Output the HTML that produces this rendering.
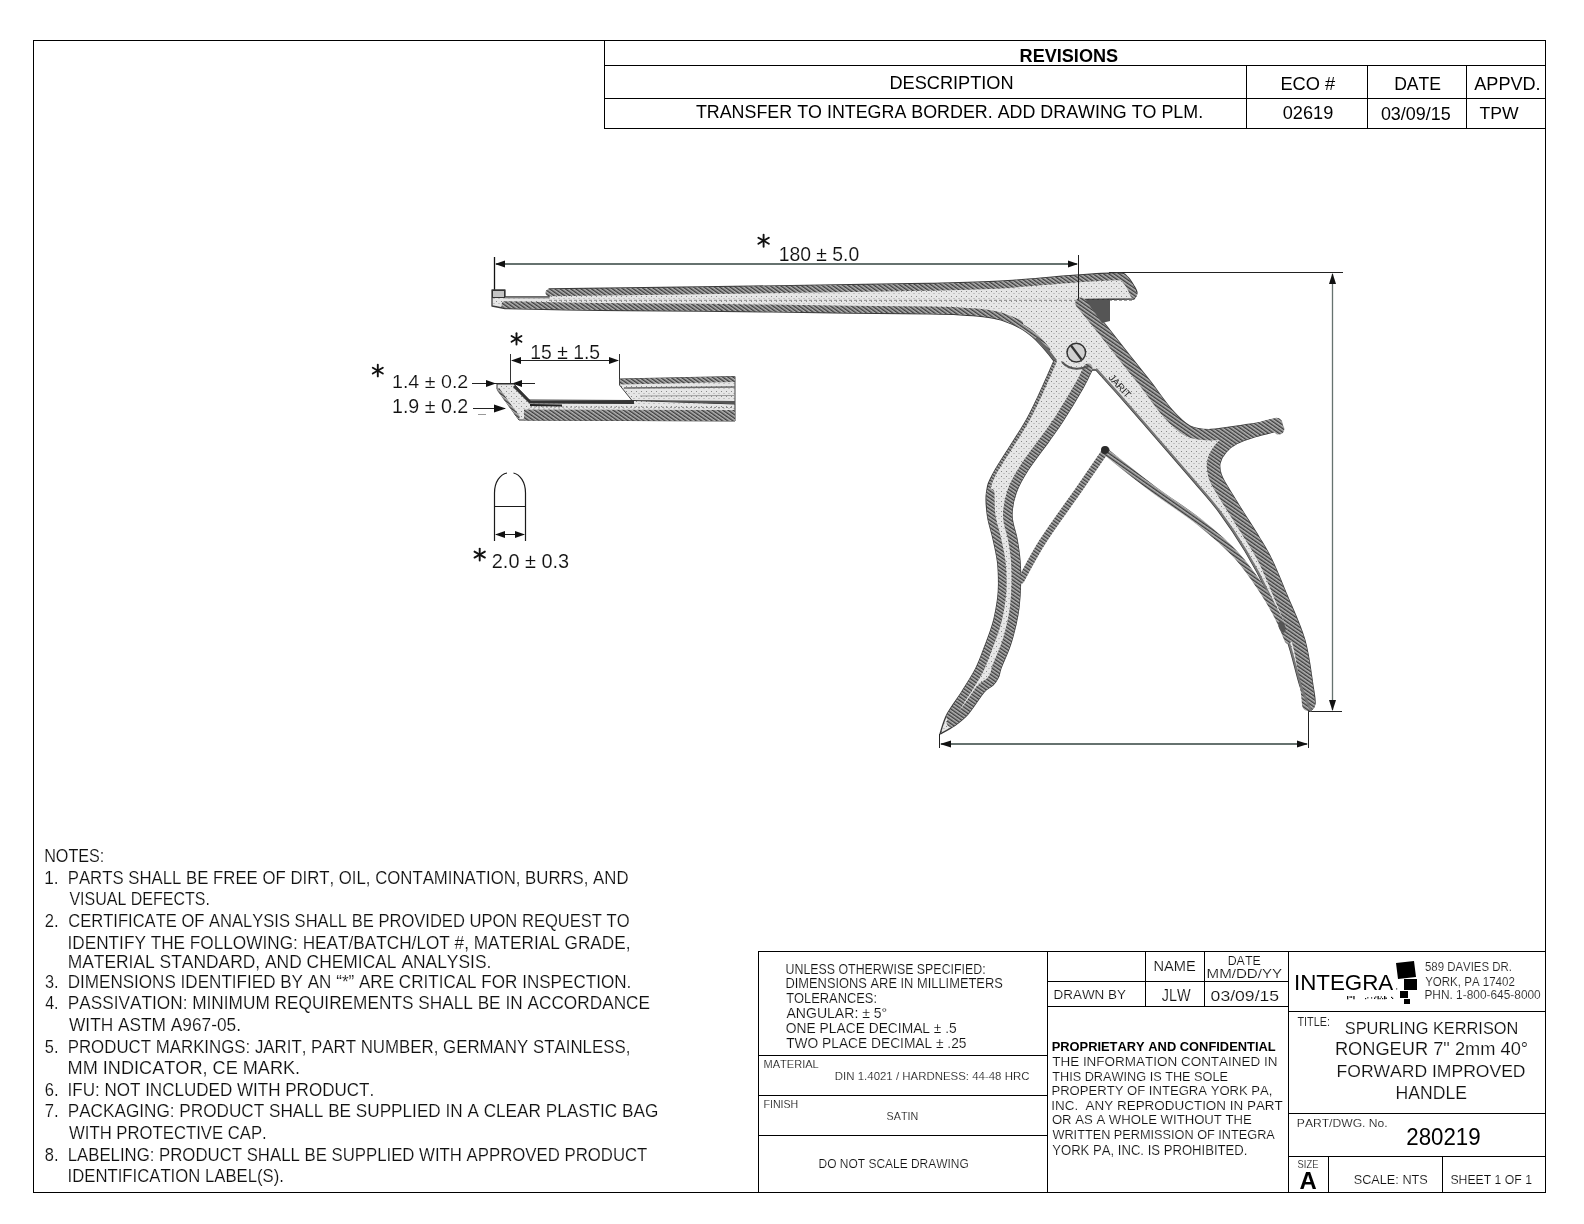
<!DOCTYPE html>
<html><head><meta charset="utf-8"><style>
html,body{margin:0;padding:0;background:#fff;}
body{width:1584px;height:1224px;overflow:hidden;}
svg{display:block;font-family:"Liberation Sans",sans-serif;font-kerning:none;will-change:transform;}
</style></head><body>
<svg width="1584" height="1224" viewBox="0 0 1584 1224">
<rect width="1584" height="1224" fill="#fff"/>
<rect x="33" y="40" width="1513" height="1" fill="#000"/>
<rect x="33" y="1192" width="1513" height="1" fill="#000"/>
<rect x="33" y="40" width="1" height="1153" fill="#000"/>
<rect x="1545" y="40" width="1" height="1153" fill="#000"/>
<rect x="604" y="40" width="1" height="89" fill="#000"/>
<rect x="604" y="65" width="942" height="1" fill="#000"/>
<rect x="604" y="98" width="942" height="1" fill="#000"/>
<rect x="604" y="128" width="942" height="1" fill="#000"/>
<rect x="1246" y="65" width="1" height="64" fill="#000"/>
<rect x="1367" y="65" width="1" height="64" fill="#000"/>
<rect x="1466" y="65" width="1" height="64" fill="#000"/>
<text x="1019.59" y="61.90" font-size="18.02" textLength="98.52" lengthAdjust="spacingAndGlyphs" font-weight="bold">REVISIONS</text>
<text x="889.41" y="88.60" font-size="18.02" textLength="124.17" lengthAdjust="spacingAndGlyphs">DESCRIPTION</text>
<text x="1280.40" y="90.00" font-size="18.02" textLength="54.79" lengthAdjust="spacingAndGlyphs">ECO #</text>
<text x="1394.16" y="89.80" font-size="17.73" textLength="46.79" lengthAdjust="spacingAndGlyphs">DATE</text>
<text x="1474.26" y="89.80" font-size="17.73" textLength="66.39" lengthAdjust="spacingAndGlyphs">APPVD.</text>
<text x="695.90" y="118.00" font-size="18.46" textLength="507.23" lengthAdjust="spacingAndGlyphs">TRANSFER TO INTEGRA BORDER. ADD DRAWING TO PLM.</text>
<text x="1282.79" y="118.70" font-size="17.88" textLength="50.47" lengthAdjust="spacingAndGlyphs">02619</text>
<text x="1380.90" y="119.60" font-size="18.02" textLength="69.85" lengthAdjust="spacingAndGlyphs">03/09/15</text>
<text x="1479.61" y="118.60" font-size="17.15" textLength="39.05" lengthAdjust="spacingAndGlyphs">TPW</text>
<text x="44.17" y="862.00" font-size="18.02" textLength="60.20" lengthAdjust="spacingAndGlyphs" fill="#111" stroke="#fff" stroke-width="0.15">NOTES:</text>
<text x="67.72" y="883.90" font-size="17.73" textLength="560.78" lengthAdjust="spacingAndGlyphs" fill="#111" stroke="#fff" stroke-width="0.15">PARTS SHALL BE FREE OF DIRT, OIL, CONTAMINATION, BURRS, AND</text>
<text x="44.19" y="883.90" font-size="17.73" textLength="14.39" lengthAdjust="spacingAndGlyphs" fill="#111" stroke="#fff" stroke-width="0.15">1.</text>
<text x="69.43" y="905.00" font-size="17.59" textLength="140.43" lengthAdjust="spacingAndGlyphs" fill="#111" stroke="#fff" stroke-width="0.15">VISUAL DEFECTS.</text>
<text x="68.26" y="926.80" font-size="18.02" textLength="561.33" lengthAdjust="spacingAndGlyphs" fill="#111" stroke="#fff" stroke-width="0.15">CERTIFICATE OF ANALYSIS SHALL BE PROVIDED UPON REQUEST TO</text>
<text x="44.66" y="926.80" font-size="18.02" textLength="13.85" lengthAdjust="spacingAndGlyphs" fill="#111" stroke="#fff" stroke-width="0.15">2.</text>
<text x="67.51" y="948.90" font-size="18.02" textLength="563.03" lengthAdjust="spacingAndGlyphs" fill="#111" stroke="#fff" stroke-width="0.15">IDENTIFY THE FOLLOWING: HEAT/BATCH/LOT #, MATERIAL GRADE,</text>
<text x="67.67" y="967.90" font-size="18.02" textLength="423.72" lengthAdjust="spacingAndGlyphs" fill="#111" stroke="#fff" stroke-width="0.15">MATERIAL STANDARD, AND CHEMICAL ANALYSIS.</text>
<text x="67.70" y="988.10" font-size="17.73" textLength="563.56" lengthAdjust="spacingAndGlyphs" fill="#111" stroke="#fff" stroke-width="0.15">DIMENSIONS IDENTIFIED BY AN “*” ARE CRITICAL FOR INSPECTION.</text>
<text x="44.88" y="988.10" font-size="17.73" textLength="13.61" lengthAdjust="spacingAndGlyphs" fill="#111" stroke="#fff" stroke-width="0.15">3.</text>
<text x="67.69" y="1009.30" font-size="17.73" textLength="582.35" lengthAdjust="spacingAndGlyphs" fill="#111" stroke="#fff" stroke-width="0.15">PASSIVATION: MINIMUM REQUIREMENTS SHALL BE IN ACCORDANCE</text>
<text x="45.13" y="1009.30" font-size="17.73" textLength="13.33" lengthAdjust="spacingAndGlyphs" fill="#111" stroke="#fff" stroke-width="0.15">4.</text>
<text x="69.02" y="1030.80" font-size="18.02" textLength="171.95" lengthAdjust="spacingAndGlyphs" fill="#111" stroke="#fff" stroke-width="0.15">WITH ASTM A967-05.</text>
<text x="67.72" y="1052.90" font-size="18.02" textLength="562.60" lengthAdjust="spacingAndGlyphs" fill="#111" stroke="#fff" stroke-width="0.15">PRODUCT MARKINGS: JARIT, PART NUMBER, GERMANY STAINLESS,</text>
<text x="44.84" y="1052.90" font-size="18.02" textLength="13.65" lengthAdjust="spacingAndGlyphs" fill="#111" stroke="#fff" stroke-width="0.15">5.</text>
<text x="67.61" y="1073.80" font-size="18.17" textLength="232.54" lengthAdjust="spacingAndGlyphs" fill="#111" stroke="#fff" stroke-width="0.15">MM INDICATOR, CE MARK.</text>
<text x="67.53" y="1095.90" font-size="18.17" textLength="306.73" lengthAdjust="spacingAndGlyphs" fill="#111" stroke="#fff" stroke-width="0.15">IFU: NOT INCLUDED WITH PRODUCT.</text>
<text x="44.66" y="1095.90" font-size="18.17" textLength="13.86" lengthAdjust="spacingAndGlyphs" fill="#111" stroke="#fff" stroke-width="0.15">6.</text>
<text x="67.69" y="1117.10" font-size="18.02" textLength="590.59" lengthAdjust="spacingAndGlyphs" fill="#111" stroke="#fff" stroke-width="0.15">PACKAGING: PRODUCT SHALL BE SUPPLIED IN A CLEAR PLASTIC BAG</text>
<text x="44.65" y="1117.10" font-size="18.02" textLength="13.87" lengthAdjust="spacingAndGlyphs" fill="#111" stroke="#fff" stroke-width="0.15">7.</text>
<text x="69.03" y="1138.60" font-size="18.17" textLength="197.70" lengthAdjust="spacingAndGlyphs" fill="#111" stroke="#fff" stroke-width="0.15">WITH PROTECTIVE CAP.</text>
<text x="67.72" y="1160.70" font-size="18.17" textLength="579.66" lengthAdjust="spacingAndGlyphs" fill="#111" stroke="#fff" stroke-width="0.15">LABELING: PRODUCT SHALL BE SUPPLIED WITH APPROVED PRODUCT</text>
<text x="44.79" y="1160.70" font-size="18.17" textLength="13.72" lengthAdjust="spacingAndGlyphs" fill="#111" stroke="#fff" stroke-width="0.15">8.</text>
<text x="67.56" y="1181.90" font-size="18.60" textLength="216.37" lengthAdjust="spacingAndGlyphs" fill="#111" stroke="#fff" stroke-width="0.15">IDENTIFICATION LABEL(S).</text>
<rect x="758" y="951" width="1" height="242" fill="#000"/>
<rect x="758" y="951" width="788" height="1" fill="#000"/>
<rect x="1047" y="951" width="1" height="242" fill="#000"/>
<rect x="758" y="1055" width="290" height="1" fill="#000"/>
<rect x="758" y="1095" width="290" height="1" fill="#000"/>
<rect x="758" y="1135" width="290" height="1" fill="#000"/>
<rect x="1145" y="951" width="1" height="56" fill="#000"/>
<rect x="1204" y="951" width="1" height="56" fill="#000"/>
<rect x="1047" y="981" width="242" height="1" fill="#000"/>
<rect x="1047" y="1006" width="242" height="1" fill="#000"/>
<rect x="1288" y="951" width="1" height="242" fill="#000"/>
<rect x="1288" y="1011" width="258" height="1" fill="#000"/>
<rect x="1288" y="1113" width="258" height="1" fill="#000"/>
<rect x="1288" y="1156" width="258" height="1" fill="#000"/>
<rect x="1328" y="1156" width="1" height="37" fill="#000"/>
<rect x="1442" y="1156" width="1" height="37" fill="#000"/>
<text x="785.55" y="974.10" font-size="13.81" textLength="200.08" lengthAdjust="spacingAndGlyphs" fill="#111" stroke="#fff" stroke-width="0.15">UNLESS OTHERWISE SPECIFIED:</text>
<text x="785.44" y="987.90" font-size="13.81" textLength="217.35" lengthAdjust="spacingAndGlyphs" fill="#111" stroke="#fff" stroke-width="0.15">DIMENSIONS ARE IN MILLIMETERS</text>
<text x="786.21" y="1003.30" font-size="13.95" textLength="90.76" lengthAdjust="spacingAndGlyphs" fill="#111" stroke="#fff" stroke-width="0.15">TOLERANCES:</text>
<text x="786.47" y="1018.30" font-size="13.81" textLength="100.77" lengthAdjust="spacingAndGlyphs" fill="#111" stroke="#fff" stroke-width="0.15">ANGULAR: ± 5°</text>
<text x="785.85" y="1033.30" font-size="13.81" textLength="170.93" lengthAdjust="spacingAndGlyphs" fill="#111" stroke="#fff" stroke-width="0.15">ONE PLACE DECIMAL ± .5</text>
<text x="786.19" y="1048.30" font-size="13.81" textLength="180.29" lengthAdjust="spacingAndGlyphs" fill="#111" stroke="#fff" stroke-width="0.15">TWO PLACE DECIMAL ± .25</text>
<text x="763.49" y="1067.80" font-size="10.90" textLength="55.27" lengthAdjust="spacingAndGlyphs" fill="#111" stroke="#fff" stroke-width="0.15">MATERIAL</text>
<text x="834.86" y="1079.70" font-size="10.32" textLength="194.57" lengthAdjust="spacingAndGlyphs" fill="#111" stroke="#fff" stroke-width="0.15">DIN 1.4021 / HARDNESS: 44-48 HRC</text>
<text x="763.53" y="1108.10" font-size="11.63" textLength="34.73" lengthAdjust="spacingAndGlyphs" fill="#111" stroke="#fff" stroke-width="0.15">FINISH</text>
<text x="886.61" y="1120.00" font-size="11.63" textLength="31.56" lengthAdjust="spacingAndGlyphs" fill="#111" stroke="#fff" stroke-width="0.15">SATIN</text>
<text x="818.62" y="1168.00" font-size="12.50" textLength="150.17" lengthAdjust="spacingAndGlyphs" fill="#111" stroke="#fff" stroke-width="0.15">DO NOT SCALE DRAWING</text>
<text x="1153.50" y="970.80" font-size="13.81" textLength="42.33" lengthAdjust="spacingAndGlyphs" fill="#111" stroke="#fff" stroke-width="0.15">NAME</text>
<text x="1227.68" y="964.80" font-size="13.66" textLength="33.05" lengthAdjust="spacingAndGlyphs" fill="#111" stroke="#fff" stroke-width="0.15">DATE</text>
<text x="1206.56" y="977.70" font-size="13.66" textLength="75.57" lengthAdjust="spacingAndGlyphs" fill="#111" stroke="#fff" stroke-width="0.15">MM/DD/YY</text>
<text x="1053.50" y="998.80" font-size="13.66" textLength="72.50" lengthAdjust="spacingAndGlyphs" fill="#111" stroke="#fff" stroke-width="0.15">DRAWN BY</text>
<text x="1161.77" y="1000.80" font-size="15.70" textLength="28.87" lengthAdjust="spacingAndGlyphs" fill="#111" stroke="#fff" stroke-width="0.15">JLW</text>
<text x="1210.61" y="1000.80" font-size="15.26" textLength="68.53" lengthAdjust="spacingAndGlyphs" fill="#111" stroke="#fff" stroke-width="0.15">03/09/15</text>
<text x="1051.64" y="1050.80" font-size="13.08" textLength="224.06" lengthAdjust="spacingAndGlyphs" font-weight="bold">PROPRIETARY AND CONFIDENTIAL</text>
<text x="1052.20" y="1065.70" font-size="13.08" textLength="225.30" lengthAdjust="spacingAndGlyphs" fill="#111" stroke="#fff" stroke-width="0.15">THE INFORMATION CONTAINED IN</text>
<text x="1052.21" y="1080.80" font-size="13.52" textLength="175.83" lengthAdjust="spacingAndGlyphs" fill="#111" stroke="#fff" stroke-width="0.15">THIS DRAWING IS THE SOLE</text>
<text x="1051.43" y="1094.70" font-size="13.52" textLength="221.05" lengthAdjust="spacingAndGlyphs" fill="#111" stroke="#fff" stroke-width="0.15">PROPERTY OF INTEGRA YORK PA,</text>
<text x="1051.26" y="1109.70" font-size="13.66" textLength="231.55" lengthAdjust="spacingAndGlyphs" fill="#111" stroke="#fff" stroke-width="0.15">INC.  ANY REPRODUCTION IN PART</text>
<text x="1051.88" y="1124.30" font-size="13.23" textLength="199.89" lengthAdjust="spacingAndGlyphs" fill="#111" stroke="#fff" stroke-width="0.15">OR AS A WHOLE WITHOUT THE</text>
<text x="1052.44" y="1139.40" font-size="13.66" textLength="222.38" lengthAdjust="spacingAndGlyphs" fill="#111" stroke="#fff" stroke-width="0.15">WRITTEN PERMISSION OF INTEGRA</text>
<text x="1052.21" y="1154.50" font-size="13.81" textLength="195.29" lengthAdjust="spacingAndGlyphs" fill="#111" stroke="#fff" stroke-width="0.15">YORK PA, INC. IS PROHIBITED.</text>
<text x="1293.94" y="989.70" font-size="22.38" textLength="99.31" lengthAdjust="spacingAndGlyphs">INTEGRA</text>
<path d="M1396,963 L1414,961 L1416,977 L1398,979 Z" fill="#000"/>
<rect x="1404" y="979" width="13" height="11" fill="#000"/>
<rect x="1400" y="991" width="8" height="7" fill="#000"/>
<rect x="1404" y="999" width="6" height="5" fill="#000"/>
<rect x="1396" y="988.3" width="1.2" height="1.2" fill="#333"/>
<rect x="1347" y="996" width="1.3" height="3.3" fill="#111"/>
<rect x="1349.5" y="996.3" width="1.2" height="1.5" fill="#111"/>
<rect x="1351" y="996.3" width="1.2" height="1.5" fill="#111"/>
<rect x="1353.3" y="996" width="1.3" height="3.3" fill="#111"/>
<rect x="1365" y="998" width="1.2" height="1.2" fill="#111"/>
<rect x="1367.2" y="997.2" width="1.2" height="1.2" fill="#111"/>
<rect x="1371" y="997.3" width="1.2" height="1.2" fill="#111"/>
<rect x="1374" y="997.5" width="1.2" height="1.5" fill="#111"/>
<rect x="1375.3" y="996.3" width="1.1" height="1.4" fill="#111"/>
<rect x="1377.5" y="996" width="1.3" height="3.3" fill="#111"/>
<rect x="1379.5" y="998" width="1.2" height="1.2" fill="#111"/>
<rect x="1380.7" y="996.4" width="1.2" height="1.2" fill="#111"/>
<rect x="1382" y="998" width="1.2" height="1.2" fill="#111"/>
<rect x="1384" y="996" width="1.3" height="3.3" fill="#111"/>
<rect x="1385.5" y="997.5" width="1.3" height="1.5" fill="#111"/>
<rect x="1391" y="996.8" width="1.2" height="1.2" fill="#111"/>
<rect x="1392" y="997.8" width="1.2" height="1.2" fill="#111"/>
<text x="1424.94" y="970.90" font-size="12.06" textLength="87.00" lengthAdjust="spacingAndGlyphs" fill="#222" stroke="#fff" stroke-width="0.12">589 DAVIES DR.</text>
<text x="1425.15" y="985.80" font-size="12.06" textLength="89.73" lengthAdjust="spacingAndGlyphs" fill="#222" stroke="#fff" stroke-width="0.12">YORK, PA 17402</text>
<text x="1424.42" y="999.40" font-size="12.06" textLength="116.34" lengthAdjust="spacingAndGlyphs" fill="#222" stroke="#fff" stroke-width="0.12">PHN. 1-800-645-8000</text>
<text x="1297.46" y="1025.80" font-size="13.37" textLength="32.53" lengthAdjust="spacingAndGlyphs" fill="#222" stroke="#fff" stroke-width="0.12">TITLE:</text>
<text x="1344.76" y="1034.10" font-size="17.15" textLength="173.58" lengthAdjust="spacingAndGlyphs" fill="#111" stroke="#fff" stroke-width="0.15">SPURLING KERRISON</text>
<text x="1334.90" y="1054.80" font-size="18.02" textLength="193.19" lengthAdjust="spacingAndGlyphs" fill="#111" stroke="#fff" stroke-width="0.15">RONGEUR 7" 2mm 40°</text>
<text x="1336.56" y="1076.80" font-size="17.30" textLength="188.98" lengthAdjust="spacingAndGlyphs" fill="#111" stroke="#fff" stroke-width="0.15">FORWARD IMPROVED</text>
<text x="1395.55" y="1098.90" font-size="17.73" textLength="71.50" lengthAdjust="spacingAndGlyphs" fill="#111" stroke="#fff" stroke-width="0.15">HANDLE</text>
<text x="1296.81" y="1126.90" font-size="11.77" textLength="90.90" lengthAdjust="spacingAndGlyphs" fill="#111" stroke="#fff" stroke-width="0.15">PART/DWG. No.</text>
<text x="1406.28" y="1145.10" font-size="23.11" textLength="74.38" lengthAdjust="spacingAndGlyphs">280219</text>
<text x="1297.57" y="1167.80" font-size="11.63" textLength="20.83" lengthAdjust="spacingAndGlyphs" fill="#111" stroke="#fff" stroke-width="0.15">SIZE</text>
<text x="1299.41" y="1189.00" font-size="23.69" textLength="17.22" lengthAdjust="spacingAndGlyphs" font-weight="bold">A</text>
<text x="1353.72" y="1183.75" font-size="13.44" textLength="74.06" lengthAdjust="spacingAndGlyphs" fill="#111" stroke="#fff" stroke-width="0.15">SCALE: NTS</text>
<text x="1450.44" y="1183.75" font-size="13.44" textLength="81.55" lengthAdjust="spacingAndGlyphs" fill="#111" stroke="#fff" stroke-width="0.15">SHEET 1 OF 1</text>
<text x="778.73" y="261.10" font-size="20.64" textLength="80.53" lengthAdjust="spacingAndGlyphs" fill="#111" stroke="#fff" stroke-width="0.15">180 ± 5.0</text>
<text x="530.33" y="358.80" font-size="20.06" textLength="69.68" lengthAdjust="spacingAndGlyphs" fill="#111" stroke="#fff" stroke-width="0.15">15 ± 1.5</text>
<text x="392.00" y="387.50" font-size="19.04" textLength="76.28" lengthAdjust="spacingAndGlyphs" fill="#111" stroke="#fff" stroke-width="0.15">1.4 ± 0.2</text>
<text x="392.00" y="413.40" font-size="19.91" textLength="76.28" lengthAdjust="spacingAndGlyphs" fill="#111" stroke="#fff" stroke-width="0.15">1.9 ± 0.2</text>
<text x="491.80" y="567.80" font-size="19.62" textLength="77.38" lengthAdjust="spacingAndGlyphs" fill="#111" stroke="#fff" stroke-width="0.15">2.0 ± 0.3</text>
<defs><pattern id="h1" patternUnits="userSpaceOnUse" width="3" height="3" patternTransform="rotate(-55)"><rect width="3" height="3" fill="#b4b4b4"/><rect width="1.4" height="3" fill="#3c3c3c"/></pattern><pattern id="st" patternUnits="userSpaceOnUse" width="5" height="5"><rect width="5" height="5" fill="#e6e6e6"/><rect x="1" y="1" width="1" height="1" fill="#888"/><rect x="3.5" y="3" width="1" height="1" fill="#a0a0a0"/></pattern></defs>
<line x1="494.5" y1="257" x2="494.5" y2="296" stroke="#111" stroke-width="1.3"/>
<line x1="496" y1="264" x2="1077" y2="264" stroke="#66726f" stroke-width="1.8"/>
<polygon points="495,264 505,260.5 505,267.5" fill="#111"/>
<polygon points="1078,264 1068,260.5 1068,267.5" fill="#111"/>
<line x1="1109" y1="272.5" x2="1343" y2="272.5" stroke="#222" stroke-width="1"/>
<line x1="1332.5" y1="274" x2="1332.5" y2="710" stroke="#66726f" stroke-width="1.3"/>
<polygon points="1332.5,273 1329,284 1336,284" fill="#111"/>
<polygon points="1332.5,711 1329,700 1336,700" fill="#111"/>
<line x1="1309" y1="711.5" x2="1342" y2="711.5" stroke="#222" stroke-width="1"/>
<line x1="1308.5" y1="711" x2="1308.5" y2="748" stroke="#222" stroke-width="1"/>
<line x1="939.5" y1="734" x2="939.5" y2="748" stroke="#222" stroke-width="1"/>
<line x1="941" y1="744" x2="1307" y2="744" stroke="#66726f" stroke-width="1.8"/>
<polygon points="940,744 951,740.5 951,747.5" fill="#111"/>
<polygon points="1308,744 1297,740.5 1297,747.5" fill="#111"/>
<line x1="510.5" y1="354" x2="510.5" y2="384" stroke="#333" stroke-width="1"/>
<line x1="619.5" y1="354" x2="619.5" y2="383" stroke="#333" stroke-width="1"/>
<line x1="512" y1="360.5" x2="618" y2="360.5" stroke="#222" stroke-width="1"/>
<polygon points="511,360.5 521,357 521,364" fill="#111"/>
<polygon points="619,360.5 609,357 609,364" fill="#111"/>
<line x1="472" y1="383.5" x2="535" y2="383.5" stroke="#222" stroke-width="1"/>
<polygon points="496,383.5 486,380 486,387" fill="#111"/>
<polygon points="512,383.5 522,380 522,387" fill="#111"/>
<line x1="473" y1="408.5" x2="505" y2="408.5" stroke="#222" stroke-width="1"/>
<polygon points="506,408.5 494,404.5 494,412.5" fill="#111"/>
<line x1="478" y1="414.5" x2="486" y2="414.5" stroke="#999" stroke-width="1"/>
<path d="M494.5,541 L494.5,493 C494.5,482 500,474.5 507,473 M513.5,473 C520,474.5 525.5,482 525.5,493 L525.5,541" fill="none" stroke="#1a1a1a" stroke-width="1.2"/>
<line x1="494" y1="506.5" x2="526" y2="506.5" stroke="#1a1a1a" stroke-width="1"/>
<line x1="496" y1="534.5" x2="524" y2="534.5" stroke="#1a1a1a" stroke-width="1"/>
<polygon points="495,534.5 505,531 505,538" fill="#111"/>
<polygon points="525,534.5 515,531 515,538" fill="#111"/>
<polygon points="619.5,379 735,376.5 735,404 634,403 619.5,385" fill="url(#st)" stroke="#444" stroke-width="1"/>
<polyline points="620,381.8 735,379.3" fill="none" stroke="url(#h1)" stroke-width="5.5"/>
<polyline points="624,388 735,387" fill="none" stroke="#6a6a6a" stroke-width="1.5"/>
<polyline points="640,396 735,395.5" fill="none" stroke="#999" stroke-width="1"/>
<polygon points="497,384 514,384 529,400 634,400.5 735,404 735,421 519,420 497,389" fill="url(#st)" stroke="#333" stroke-width="1"/>
<polyline points="524,415 735,415.5" fill="none" stroke="url(#h1)" stroke-width="11"/>
<polyline points="530,407 735,407.5" fill="none" stroke="#888" stroke-width="1" stroke-dasharray="2,2"/>
<polyline points="514,386 530,402 634,402.5" fill="none" stroke="#333" stroke-width="3"/>
<polyline points="498,389 519,418" fill="none" stroke="url(#h1)" stroke-width="3"/>
<polyline points="530,405 562,405.5" fill="none" stroke="#222" stroke-width="2"/>
<polygon points="634,400.5 735,404 735,401 640,400" fill="#555"/>
<path d="M492.00,306.00 L492.00,290.00 L505.00,290.00 L505.00,297.00 L549.00,297.00 L549,289 C574.17,288.67 649.83,287.73 700.00,287.00 C750.17,286.27 811.67,285.20 850.00,284.60 C888.33,284.00 905.00,283.97 930.00,283.40 C955.00,282.83 976.67,282.50 1000.00,281.20 C1023.33,279.90 1050.50,276.97 1070.00,275.60 C1089.50,274.23 1107.50,272.85 1117.00,273.00 C1126.50,273.15 1124.17,274.33 1127.00,276.50 C1129.83,278.67 1132.33,283.25 1134.00,286.00 C1135.67,288.75 1137.00,290.83 1137.00,293.00 C1137.00,295.17 1134.50,298.00 1134.00,299.00 L1085,299.5 C1088.83,304.25 1100.50,318.58 1108.00,328.00 C1115.50,337.42 1123.00,347.17 1130.00,356.00 C1137.00,364.83 1143.00,372.00 1150.00,381.00 C1157.00,390.00 1165.33,402.50 1172.00,410.00 C1178.67,417.50 1183.50,422.75 1190.00,426.00 C1196.50,429.25 1201.33,429.75 1211.00,429.50 C1220.67,429.25 1237.50,425.92 1248.00,424.50 C1258.50,423.08 1268.50,421.08 1274.00,421.00 C1279.50,420.92 1279.83,423.50 1281.00,424.00 C1280.50,425.92 1282.17,428.58 1278.00,430.50 C1273.83,432.42 1262.83,434.33 1256.00,436.50 C1249.17,438.67 1242.00,440.92 1237.00,443.50 C1232.00,446.08 1228.83,448.75 1226.00,452.00 C1223.17,455.25 1220.83,459.33 1220.00,463.00 C1219.17,466.67 1220.00,470.50 1221.00,474.00 C1222.00,477.50 1222.50,478.00 1226.00,484.00 C1229.50,490.00 1236.50,501.17 1242.00,510.00 C1247.50,518.83 1254.00,528.67 1259.00,537.00 C1264.00,545.33 1267.42,550.50 1272.00,560.00 C1276.58,569.50 1281.03,580.67 1286.50,594.00 C1291.97,607.33 1300.38,624.67 1304.80,640.00 C1309.22,655.33 1311.30,675.33 1313.00,686.00 C1314.70,696.67 1315.50,699.83 1315.00,704.00 C1314.50,708.17 1310.83,709.83 1310.00,711.00 C1308.33,706.83 1303.83,697.83 1300.00,686.00 C1296.17,674.17 1292.33,655.33 1287.00,640.00 C1281.67,624.67 1275.00,608.83 1268.00,594.00 C1261.00,579.17 1253.17,564.67 1245.00,551.00 C1236.83,537.33 1227.50,523.50 1219.00,512.00 C1210.50,500.50 1203.50,493.17 1194.00,482.00 C1184.50,470.83 1172.83,457.50 1162.00,445.00 C1151.17,432.50 1140.00,419.50 1129.00,407.00 C1118.00,394.50 1101.50,376.17 1096.00,370.00 L1092,370 C1090.50,373.00 1087.83,379.50 1083.00,388.00 C1078.17,396.50 1068.67,412.17 1063.00,421.00 C1057.33,429.83 1054.83,432.83 1049.00,441.00 C1043.17,449.17 1033.50,461.33 1028.00,470.00 C1022.50,478.67 1018.67,485.33 1016.00,493.00 C1013.33,500.67 1011.83,508.33 1012.00,516.00 C1012.17,523.67 1015.67,531.50 1017.00,539.00 C1018.33,546.50 1019.42,553.50 1020.00,561.00 C1020.58,568.50 1020.67,576.33 1020.50,584.00 C1020.33,591.67 1019.75,600.33 1019.00,607.00 C1018.25,613.67 1017.50,617.50 1016.00,624.00 C1014.50,630.50 1012.50,638.67 1010.00,646.00 C1007.50,653.33 1002.92,662.83 1001.00,668.00 C999.08,673.17 999.83,674.17 998.50,677.00 C997.17,679.83 995.42,682.50 993.00,685.00 C990.58,687.50 988.17,687.17 984.00,692.00 C979.83,696.83 973.00,708.33 968.00,714.00 C963.00,719.67 958.67,722.67 954.00,726.00 C949.33,729.33 942.33,732.67 940.00,734.00 C941.17,730.73 943.33,721.48 947.00,714.40 C950.67,707.32 957.20,699.13 962.00,691.50 C966.80,683.87 971.97,676.22 975.80,668.60 C979.63,660.98 982.13,653.42 985.00,645.80 C987.87,638.18 990.92,630.53 993.00,622.90 C995.08,615.27 996.57,606.48 997.50,600.00 C998.43,593.52 998.60,590.42 998.60,584.00 C998.60,577.58 998.43,569.07 997.50,561.50 C996.57,553.93 994.67,546.22 993.00,538.60 C991.33,530.98 988.58,523.40 987.50,515.80 C986.42,508.20 985.42,500.30 986.50,493.00 C987.58,485.70 987.08,484.67 994.00,472.00 C1000.92,459.33 1018.00,435.50 1028.00,417.00 C1038.00,398.50 1049.67,370.33 1054.00,361.00 C1052.67,359.33 1049.00,354.50 1046.00,351.00 C1043.00,347.50 1039.17,343.08 1036.00,340.00 C1032.83,336.92 1030.00,334.67 1027.00,332.50 C1024.00,330.33 1022.33,329.08 1018.00,327.00 C1013.67,324.92 1006.83,321.73 1001.00,320.00 C995.17,318.27 989.83,317.47 983.00,316.60 C976.17,315.73 968.83,315.25 960.00,314.80 C951.17,314.35 948.33,314.20 930.00,313.90 C911.67,313.60 888.33,313.48 850.00,313.00 C811.67,312.52 741.67,311.43 700.00,311.00 C658.33,310.57 632.50,310.82 600.00,310.40 C567.50,309.98 520.83,308.82 505.00,308.50 L492,306 Z" fill="url(#st)" stroke="#3a3a3a" stroke-width="1.3" stroke-linejoin="round"/>
<path d="M549.05,292.80 C574.22,292.47 649.89,291.53 700.06,290.80 C750.22,290.07 811.72,289.00 850.06,288.40 C888.40,287.80 905.06,287.77 930.09,287.20 C955.11,286.63 976.85,286.30 1000.21,284.99 C1023.57,283.69 1050.81,280.76 1070.27,279.39 C1089.72,278.02 1107.87,276.78 1116.94,276.80 C1126.01,276.82 1122.39,277.66 1124.69,279.52 C1126.99,281.38 1129.28,285.47 1130.75,287.97 C1132.22,290.47 1133.05,293.41 1133.51,294.50" fill="none" stroke="url(#h1)" stroke-width="7" stroke-linejoin="round" stroke-linecap="round"/>
<path d="M505.08,304.70 C520.90,305.02 567.55,306.18 600.05,306.60 C632.54,307.02 658.37,306.77 700.04,307.20 C741.71,307.63 811.71,308.72 850.05,309.20 C888.39,309.68 911.70,309.80 930.06,310.10 C948.42,310.40 951.29,310.55 960.19,311.00 C969.10,311.46 976.50,311.94 983.48,312.83 C990.46,313.72 996.09,314.58 1002.08,316.36 C1008.08,318.13 1016.55,322.30 1019.45,323.49" fill="none" stroke="url(#h1)" stroke-width="7" stroke-linejoin="round" stroke-linecap="round"/>
<path d="M1047.85,349.32 C1046.17,347.47 1040.98,341.35 1037.74,338.21 C1034.51,335.07 1031.54,332.70 1028.46,330.47 C1025.39,328.25 1020.83,325.80 1019.30,324.87" fill="none" stroke="url(#h1)" stroke-width="5" stroke-linejoin="round" stroke-linecap="round"/>
<path d="M1055.17,360.06 C1053.83,358.39 1050.15,353.54 1047.14,350.02 C1044.13,346.51 1038.78,340.83 1037.11,338.99" fill="none" stroke="#666" stroke-width="3" stroke-linejoin="round" stroke-linecap="round"/>
<line x1="549" y1="300.3" x2="1134" y2="300.3" stroke="#888" stroke-width="1" stroke-dasharray="3,2"/>
<line x1="505" y1="298" x2="549" y2="298" stroke="#999" stroke-width="1"/>
<path d="M1080.72,302.95 C1084.55,307.70 1096.20,322.02 1103.70,331.43 C1111.19,340.84 1118.70,350.59 1125.69,359.42 C1132.68,368.24 1138.63,375.34 1145.66,384.38 C1152.69,393.42 1160.91,405.90 1167.89,413.65 C1174.87,421.41 1180.33,427.36 1187.54,430.92 C1194.75,434.48 1200.94,435.16 1211.14,435.00 C1221.34,434.84 1238.25,431.37 1248.74,429.95 C1259.23,428.53 1269.07,426.65 1274.08,426.50 C1279.10,426.35 1278.04,428.63 1278.83,429.06" fill="none" stroke="url(#h1)" stroke-width="11" stroke-linejoin="round" stroke-linecap="round"/>
<path d="M1276.29,424.23 C1272.58,425.24 1261.08,428.05 1254.04,430.30 C1246.99,432.55 1239.51,434.82 1234.02,437.73 C1228.53,440.63 1224.49,443.76 1221.10,447.73 C1217.71,451.70 1214.72,456.88 1213.66,461.56 C1212.60,466.24 1213.63,471.50 1214.75,475.79 C1215.87,480.07 1216.76,481.00 1220.39,487.28 C1224.01,493.55 1230.98,504.59 1236.48,513.44 C1241.99,522.28 1248.48,532.11 1253.43,540.34 C1258.37,548.58 1261.64,553.47 1266.15,562.82 C1270.66,572.18 1275.08,583.30 1280.49,596.47 C1285.89,609.63 1294.20,626.71 1298.55,641.80 C1302.90,656.89 1304.92,676.54 1306.58,687.02 C1308.25,697.51 1308.21,701.77 1308.54,704.72" fill="none" stroke="url(#h1)" stroke-width="13" stroke-linejoin="round" stroke-linecap="round"/>
<path d="M1310.93,710.63 C1309.27,706.47 1304.78,697.52 1300.95,685.69 C1297.12,673.87 1293.29,655.02 1287.94,639.67 C1282.60,624.32 1275.92,608.44 1268.90,593.57 C1261.89,578.71 1254.04,564.18 1245.86,550.49 C1237.68,536.79 1228.32,522.93 1219.80,511.41 C1211.29,499.88 1204.27,492.53 1194.76,481.35 C1185.25,470.18 1173.59,456.85 1162.76,444.35 C1151.92,431.84 1140.75,418.84 1129.75,406.34 C1118.75,393.84 1102.25,375.50 1096.75,369.33" fill="none" stroke="#777" stroke-width="2" stroke-linejoin="round" stroke-linecap="round"/>
<path d="M950.35,716.59 C952.85,712.76 960.55,701.33 965.39,693.63 C970.22,685.93 975.48,678.13 979.37,670.40 C983.27,662.66 985.83,654.95 988.74,647.21 C991.66,639.47 994.74,631.73 996.86,623.95 C998.98,616.18 1000.50,607.23 1001.46,600.57 C1002.42,593.91 1002.60,590.59 1002.60,584.00 C1002.60,577.41 1002.42,568.72 1001.47,561.01 C1000.52,553.30 998.58,545.37 996.91,537.74 C995.24,530.12 992.53,522.72 991.46,515.24 C990.39,507.75 990.66,496.56 990.50,492.82" fill="none" stroke="url(#h1)" stroke-width="8" stroke-linejoin="round" stroke-linecap="round"/>
<path d="M987.91,493.50 C989.15,490.04 988.42,485.35 995.32,472.72 C1002.22,460.09 1019.31,436.23 1029.32,417.71 C1039.33,399.20 1051.02,370.98 1055.36,361.63" fill="none" stroke="url(#h1)" stroke-width="3" stroke-linejoin="round" stroke-linecap="round"/>
<path d="M1087.98,367.99 C1086.49,370.95 1083.88,377.35 1079.09,385.78 C1074.29,394.21 1064.84,409.80 1059.21,418.57 C1053.59,427.34 1051.17,430.21 1045.34,438.38 C1039.50,446.55 1029.80,458.73 1024.20,467.59 C1018.60,476.44 1014.53,483.44 1011.75,491.52 C1008.97,499.61 1007.36,508.05 1007.50,516.10 C1007.64,524.14 1011.23,532.25 1012.57,539.79 C1013.90,547.33 1014.94,554.00 1015.51,561.35 C1016.09,568.70 1016.17,576.38 1016.00,583.90 C1015.84,591.43 1015.26,599.98 1014.53,606.50 C1013.80,613.01 1013.08,616.65 1011.62,622.99 C1010.15,629.33 1008.21,637.31 1005.74,644.55 C1003.27,651.79 998.67,661.35 996.78,666.43 C994.90,671.52 995.60,672.51 994.43,675.08 C993.26,677.66 992.07,679.54 989.76,681.87 C987.46,684.20 984.78,684.20 980.59,689.06 C976.40,693.92 969.55,705.44 964.63,711.02 C959.71,716.61 953.33,720.66 951.07,722.58" fill="none" stroke="url(#h1)" stroke-width="9" stroke-linejoin="round" stroke-linecap="round"/>
<path d="M1021.00,580.00 C1024.67,573.50 1033.17,556.33 1043.00,541.00 C1052.83,525.67 1069.50,503.17 1080.00,488.00 C1090.50,472.83 1101.67,456.33 1106.00,450.00" fill="none" stroke="url(#h1)" stroke-width="7" stroke-linejoin="round" stroke-linecap="round"/>
<path d="M1106.00,452.00 C1113.83,458.17 1137.33,477.25 1153.00,489.00 C1168.67,500.75 1186.00,511.33 1200.00,522.50 C1214.00,533.67 1226.50,544.58 1237.00,556.00 C1247.50,567.42 1256.17,580.83 1263.00,591.00 C1269.83,601.17 1273.83,608.83 1278.00,617.00 C1282.17,625.17 1286.33,636.17 1288.00,640.00" fill="none" stroke="url(#h1)" stroke-width="7" stroke-linejoin="round" stroke-linecap="round"/>
<circle cx="1105" cy="450" r="4" fill="#2a2a2a"/>
<ellipse cx="1282" cy="627" rx="3.2" ry="6" transform="rotate(-20 1282 627)" fill="#555"/>
<polygon points="1086,300 1110,300 1110,321 1102,323" fill="#555"/>
<path d="M1062,362 Q1072,373 1089,366" fill="none" stroke="#555" stroke-width="2"/>
<circle cx="1076.3" cy="352.6" r="9.3" fill="#d0d0d0" stroke="#333" stroke-width="1.5"/>
<line x1="1071" y1="345.5" x2="1081.5" y2="359.5" stroke="#333" stroke-width="2.2"/>
<text x="1108" y="378" font-size="10" fill="#222" transform="rotate(48 1108 378)" font-family="Liberation Sans">JARIT</text>
<rect x="492.5" y="290.5" width="12" height="7" fill="#c4c4c4" stroke="#333" stroke-width="1"/>
<line x1="1078.5" y1="255" x2="1078.5" y2="299.5" stroke="#222" stroke-width="1"/>
<line x1="763.60" y1="234.70" x2="763.60" y2="246.70" stroke="#111" stroke-width="1.9" stroke-linecap="round"/>
<line x1="758.40" y1="237.70" x2="768.80" y2="243.70" stroke="#111" stroke-width="1.9" stroke-linecap="round"/>
<line x1="768.80" y1="237.70" x2="758.40" y2="243.70" stroke="#111" stroke-width="1.9" stroke-linecap="round"/>
<line x1="516.50" y1="333.20" x2="516.50" y2="344.60" stroke="#111" stroke-width="1.9" stroke-linecap="round"/>
<line x1="511.56" y1="336.05" x2="521.44" y2="341.75" stroke="#111" stroke-width="1.9" stroke-linecap="round"/>
<line x1="521.44" y1="336.05" x2="511.56" y2="341.75" stroke="#111" stroke-width="1.9" stroke-linecap="round"/>
<line x1="377.80" y1="364.80" x2="377.80" y2="376.40" stroke="#111" stroke-width="1.9" stroke-linecap="round"/>
<line x1="372.78" y1="367.70" x2="382.82" y2="373.50" stroke="#111" stroke-width="1.9" stroke-linecap="round"/>
<line x1="382.82" y1="367.70" x2="372.78" y2="373.50" stroke="#111" stroke-width="1.9" stroke-linecap="round"/>
<line x1="479.70" y1="548.60" x2="479.70" y2="560.60" stroke="#111" stroke-width="1.9" stroke-linecap="round"/>
<line x1="474.50" y1="551.60" x2="484.90" y2="557.60" stroke="#111" stroke-width="1.9" stroke-linecap="round"/>
<line x1="484.90" y1="551.60" x2="474.50" y2="557.60" stroke="#111" stroke-width="1.9" stroke-linecap="round"/>
</svg>
</body></html>
